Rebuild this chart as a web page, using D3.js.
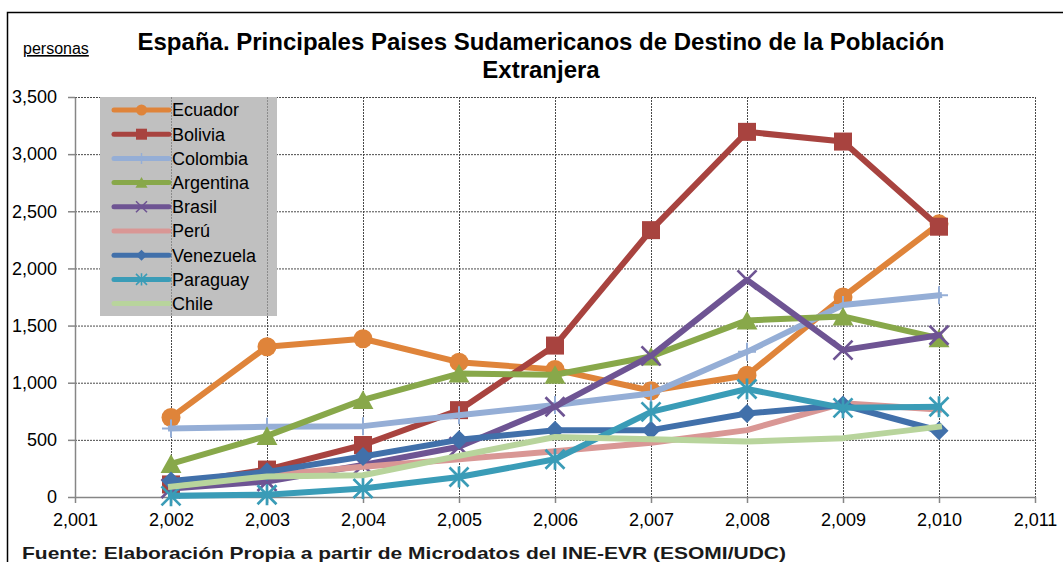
<!DOCTYPE html>
<html>
<head>
<meta charset="utf-8">
<script src="https://cdn.jsdelivr.net/npm/d3@7"></script>
<style>
  body { margin: 0; background: #fff; }
  svg { display: block; font-family: "Liberation Sans", Arial, sans-serif; }
  .axis path, .axis line { stroke: #868686; stroke-width: 1.5; }
  .axis text { font-size: 18px; fill: #000; }
  .grid line { stroke: #4a4a4a; stroke-width: 1; stroke-dasharray: 2,1; }
  .legend-grid line { stroke: #8c8c8c; stroke-width: 1; stroke-dasharray: 2,1; }
</style>
</head>
<body>
<div id="chart"></div>
<script>
// data
var years = [2002, 2003, 2004, 2005, 2006, 2007, 2008, 2009, 2010];
var xTicks = [2001, 2002, 2003, 2004, 2005, 2006, 2007, 2008, 2009, 2010, 2011];
var yTicks = [0, 500, 1000, 1500, 2000, 2500, 3000, 3500];

var countries = ["Ecuador", "Bolivia", "Colombia", "Argentina", "Brasil", "Perú", "Venezuela", "Paraguay", "Chile"];
var ecuador   = [695, 1315, 1385, 1180, 1115, 930, 1065, 1750, 2390];
var bolivia   = [110, 240, 455, 760, 1325, 2335, 3195, 3110, 2365];
var colombia  = [600, 615, 620, 715, 805, 905, 1270, 1680, 1765];
var argentina = [290, 535, 850, 1080, 1070, 1230, 1545, 1580, 1390];
var brasil    = [75, 135, 280, 440, 790, 1235, 1900, 1285, 1415];
var peru      = [95, 190, 265, 330, 400, 475, 585, 820, 765];
var venezuela = [140, 220, 355, 500, 585, 585, 730, 805, 580];
var paraguay  = [10, 20, 75, 175, 330, 745, 945, 780, 790];
var chile     = [90, 180, 190, 360, 525, 505, 485, 515, 615];

var seriesValues = [ecuador, bolivia, colombia, argentina, brasil, peru, venezuela, paraguay, chile];

// colours + marker type per series
var colours = ["#df843a", "#a8433f", "#95aed6", "#88a84a", "#6e5493", "#d99795", "#4170aa", "#3a9cb7", "#b8d49c"];
var markers = ["circle", "square", "plus", "triangle", "cross", "none", "diamond", "star", "none"];

var series = countries.map(function(name, i) {
  return {
    name: name,
    colour: colours[i],
    marker: markers[i],
    points: years.map(function(yr, j) { return {year: yr, value: seriesValues[i][j]}; })
  };
});

var width = 1063, height = 562;
var plot = {left: 75, right: 1035, top: 97, bottom: 497};

var svg = d3.select("#chart")
            .append("svg")
              .attr("width", width)
              .attr("height", height);

// outer frame (only left + top edges are inside the picture)
svg.append("rect")
    .attr("x", 7.5)
    .attr("y", 12.5)
    .attr("width", 1100)
    .attr("height", 600)
    .attr("fill", "none")
    .attr("stroke", "#000")
    .attr("stroke-width", 1.5);

var xScale = d3.scaleLinear().domain([2001, 2011]).range([plot.left, plot.right]);
var yScale = d3.scaleLinear().domain([0, 3500]).range([plot.bottom, plot.top]);

// gridlines
var grid = svg.append("g").attr("class", "grid");
grid.selectAll(".hgrid")
    .data(yTicks.slice(1))
    .enter()
   .append("line")
    .attr("x1", plot.left)
    .attr("x2", plot.right)
    .attr("y1", function(d) { return yScale(d) + 0.5; })
    .attr("y2", function(d) { return yScale(d) + 0.5; });
grid.selectAll(".vgrid")
    .data(xTicks.slice(1))
    .enter()
   .append("line")
    .attr("x1", function(d) { return xScale(d) + 0.5; })
    .attr("x2", function(d) { return xScale(d) + 0.5; })
    .attr("y1", plot.top)
    .attr("y2", plot.bottom);

// axes
var fmt = d3.format(",");
svg.append("g")
    .attr("class", "axis y-axis")
    .attr("transform", "translate(" + plot.left + ",0)")
    .call(d3.axisLeft(yScale).tickValues(yTicks).tickFormat(fmt).tickSize(7).tickSizeOuter(0).tickPadding(11));

svg.append("g")
    .attr("class", "axis x-axis")
    .attr("transform", "translate(0," + plot.bottom + ")")
    .call(d3.axisBottom(xScale).tickValues(xTicks).tickFormat(fmt).tickSize(6).tickSizeOuter(0).tickPadding(10));

svg.selectAll(".axis .domain").attr("stroke", "#868686").attr("stroke-width", 1.5);

// legend box
var legendX = 100, legendY = 97, legendW = 177, legendH = 219, legendRow = 24.2;
svg.append("rect")
    .attr("x", legendX)
    .attr("y", legendY)
    .attr("width", legendW)
    .attr("height", legendH)
    .attr("fill", "#c0c0c0");

// vertical gridlines show faintly through the legend
svg.append("g")
    .attr("class", "legend-grid")
   .selectAll("line")
    .data(xTicks.filter(function(d) { return xScale(d) > legendX && xScale(d) < legendX + legendW; }))
    .enter()
   .append("line")
    .attr("x1", function(d) { return xScale(d) + 0.5; })
    .attr("x2", function(d) { return xScale(d) + 0.5; })
    .attr("y1", legendY)
    .attr("y2", legendY + legendH);

// marker drawing helper
function drawMarker(g, type, colour, s) {
  // s = overall marker size in px
  var h = s / 2;
  if (type === "circle") {
    g.append("circle").attr("r", h).attr("fill", colour);
  } else if (type === "square") {
    g.append("rect").attr("x", -h).attr("y", -h).attr("width", s).attr("height", s).attr("fill", colour);
  } else if (type === "triangle") {
    g.append("path").attr("d", "M0," + (-h) + "L" + (h * 1.1) + "," + (h * 0.95) + "L" + (-h * 1.1) + "," + (h * 0.95) + "Z").attr("fill", colour);
  } else if (type === "diamond") {
    g.append("path").attr("d", "M0," + (-h) + "L" + h + ",0L0," + h + "L" + (-h) + ",0Z").attr("fill", colour);
  } else if (type === "plus") {
    g.append("path").attr("d", "M" + (-h) + ",0H" + h + "M0," + (-h) + "V" + h)
        .attr("stroke", colour).attr("stroke-width", Math.max(1.5, s / 9)).attr("fill", "none");
  } else if (type === "cross") {
    g.append("path").attr("d", "M" + (-h) + "," + (-h) + "L" + h + "," + h + "M" + h + "," + (-h) + "L" + (-h) + "," + h)
        .attr("stroke", colour).attr("stroke-width", Math.max(1.5, s / 7)).attr("fill", "none");
  } else if (type === "star") {
    g.append("path").attr("d", "M" + (-h) + "," + (-h) + "L" + h + "," + h + "M" + h + "," + (-h) + "L" + (-h) + "," + h + "M0," + (-h * 1.1) + "V" + (h * 1.1))
        .attr("stroke", colour).attr("stroke-width", Math.max(1.5, s / 7)).attr("fill", "none");
  }
}

var legendGroups = svg.selectAll(".legend-group")
    .data(series)
    .enter()
   .append("g")
    .attr("class", "legend-group")
    .attr("transform", function(d, i) {
      return "translate(0," + (legendY + 13 + legendRow * i) + ")";
    });

legendGroups.append("line")
    .attr("x1", 114)
    .attr("x2", 169)
    .attr("stroke", function(d) { return d.colour; })
    .attr("stroke-width", 5)
    .attr("stroke-linecap", "round");

legendGroups.each(function(d) {
  var g = d3.select(this).append("g").attr("transform", "translate(141.5,0)");
  drawMarker(g, d.marker, d.colour, 11);
});

legendGroups.append("text")
    .attr("x", 172)
    .attr("dy", "0.36em")
    .attr("font-size", "18px")
    .text(function(d) { return d.name; });

// lines + markers
var line = d3.line()
    .x(function(d) { return xScale(d.year); })
    .y(function(d) { return yScale(d.value); });

var seriesGroups = svg.selectAll(".series")
    .data(series)
    .enter()
   .append("g")
    .attr("class", "series");

seriesGroups.append("path")
    .attr("d", function(d) { return line(d.points); })
    .attr("fill", "none")
    .attr("stroke", function(d) { return d.colour; })
    .attr("stroke-width", 6)
    .attr("stroke-linejoin", "round")
    .attr("stroke-linecap", "square");

seriesGroups.each(function(s) {
  var markerSize = {circle: 19, square: 18, triangle: 19, diamond: 19, plus: 18, cross: 19, star: 19};
  if (s.marker === "none") return;
  d3.select(this).selectAll(".pt")
      .data(s.points)
      .enter()
     .append("g")
      .attr("transform", function(d) { return "translate(" + xScale(d.year) + "," + yScale(d.value) + ")"; })
      .each(function() { drawMarker(d3.select(this), s.marker, s.colour, markerSize[s.marker]); });
});

// titles
svg.append("text")
    .attr("x", 541)
    .attr("y", 49.5)
    .attr("text-anchor", "middle")
    .attr("font-size", "24px")
    .attr("font-weight", "bold")
    .text("España. Principales Paises Sudamericanos de Destino de la Población");

svg.append("text")
    .attr("x", 541)
    .attr("y", 78)
    .attr("text-anchor", "middle")
    .attr("font-size", "24px")
    .attr("font-weight", "bold")
    .text("Extranjera");

svg.append("text")
    .attr("x", 23)
    .attr("y", 54)
    .attr("font-size", "16px")
    .attr("text-decoration", "underline")
    .text("personas");

svg.append("text")
    .attr("x", 22)
    .attr("y", 559)
    .attr("font-size", "17px")
    .attr("font-weight", "bold")
    .attr("fill", "#1a1a1a")
    .attr("textLength", 764)
    .attr("lengthAdjust", "spacingAndGlyphs")
    .text("Fuente: Elaboración Propia a partir de Microdatos del INE-EVR (ESOMI/UDC)");
</script>
</body>
</html>
